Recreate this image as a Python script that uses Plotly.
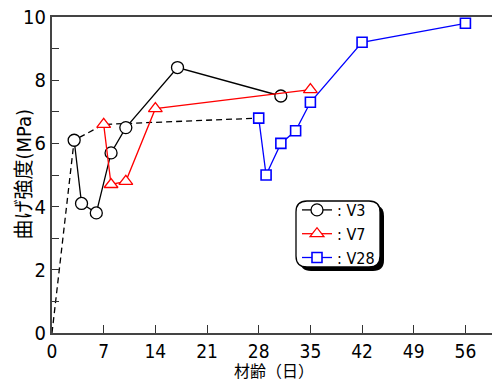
import plotly.graph_objects as go

# data (days, flexural strength MPa)
v3_days = [3, 4, 6, 8, 10, 17, 31]
v3_vals = [6.1, 4.1, 3.8, 5.7, 6.5, 8.4, 7.5]
v7_days = [7, 8, 10, 14, 35]
v7_vals = [6.6, 4.7, 4.8, 7.1, 7.7]
v28_days = [28, 29, 31, 33, 35, 42, 56]
v28_vals = [6.8, 5.0, 6.0, 6.4, 7.3, 9.2, 9.8]
init_days = [0, 3, 7, 28]
init_vals = [0, 6.1, 6.6, 6.8]

x_ticks = [0, 7, 14, 21, 28, 35, 42, 49, 56]
y_ticks = list(range(0, 11))
y_ticktext = [str(v) if v % 2 == 0 else "" for v in y_ticks]

FONT = "DejaVu Sans Condensed, DejaVu Sans, Noto Sans CJK JP"

W, H = 493, 381
L, R, T, B = 52, 1, 17, 48
PW, PH = W - L - R, H - T - B


def px(x):
    return (x - L) / PW


def py(y):
    return (H - B - y) / PH


def rrect(x0, y0, x1, y1, r):
    rx, ry = r / PW, r / PH
    a, b, c, d = px(x0), px(x1), py(y1), py(y0)  # left, right, bottom, top
    return (f"M {a+rx},{d} L {b-rx},{d} Q {b},{d} {b},{d-ry} "
            f"L {b},{c+ry} Q {b},{c} {b-rx},{c} L {a+rx},{c} "
            f"Q {a},{c} {a},{c+ry} L {a},{d-ry} Q {a},{d} {a+rx},{d} Z")


fig = go.Figure()
fig.add_trace(go.Scatter(x=init_days, y=init_vals, mode="lines",
                         line=dict(color="black", width=1.3, dash="6px,4px"),
                         showlegend=False))
fig.add_trace(go.Scatter(x=v3_days, y=v3_vals, mode="lines+markers", name=": V3",
                         line=dict(color="black", width=1.3),
                         marker=dict(symbol="circle", size=12, color="white",
                                     line=dict(color="black", width=1.3))))
fig.add_trace(go.Scatter(x=v7_days, y=v7_vals, mode="lines+markers", name=": V7",
                         line=dict(color="red", width=1.3),
                         marker=dict(symbol="triangle-up", size=12, color="white",
                                     line=dict(color="red", width=1.3))))
fig.add_trace(go.Scatter(x=v28_days, y=v28_vals, mode="lines+markers", name=": V28",
                         line=dict(color="blue", width=1.3),
                         marker=dict(symbol="square", size=10, color="white",
                                     line=dict(color="blue", width=1.6))))

shapes = [
    dict(type="path", xref="paper", yref="paper", path=rrect(300, 205, 384, 271, 11),
         fillcolor="black", line=dict(width=0), layer="above"),
    dict(type="path", xref="paper", yref="paper", path=rrect(296, 201, 380, 267, 11),
         fillcolor="white", line=dict(color="black", width=1.3), layer="above"),
]

annotations = [
    dict(text="材齢（日）", xref="paper", yref="paper", x=px(273.5), y=py(371),
         xanchor="center", yanchor="middle", showarrow=False,
         font=dict(size=16, color="black", family=FONT)),
    dict(text="曲げ強度(MPa)", xref="paper", yref="paper", x=px(23), y=py(174.5),
         xanchor="center", yanchor="middle", showarrow=False, textangle=-90,
         font=dict(size=20, color="black", family=FONT)),
]

fig.update_layout(
    width=W, height=H,
    margin=dict(l=L, r=R, t=T, b=B, pad=0),
    paper_bgcolor="white", plot_bgcolor="white",
    font=dict(family=FONT, size=19, color="black"),
    shapes=shapes, annotations=annotations,
    legend=dict(x=px(297), y=py(234), xanchor="left", yanchor="middle",
                bgcolor="rgba(0,0,0,0)", borderwidth=0,
                font=dict(size=16, family=FONT, color="black"),
                tracegroupgap=0, itemwidth=30),
    xaxis=dict(range=[0, 59.6], tickvals=x_ticks, ticks="inside", ticklen=8,
               tickwidth=1.3, tickcolor="#333", showgrid=False, zeroline=False,
               showline=True, linecolor="#444", linewidth=2, mirror=True,
               tickfont=dict(size=19)),
    yaxis=dict(range=[0, 10], tickvals=y_ticks, ticktext=y_ticktext, ticks="inside",
               ticklen=7, tickwidth=1.3, tickcolor="#333", showgrid=False,
               zeroline=False, showline=True, linecolor="#444", linewidth=2,
               tickfont=dict(size=20)),
)

fig.write_html("out.html")
